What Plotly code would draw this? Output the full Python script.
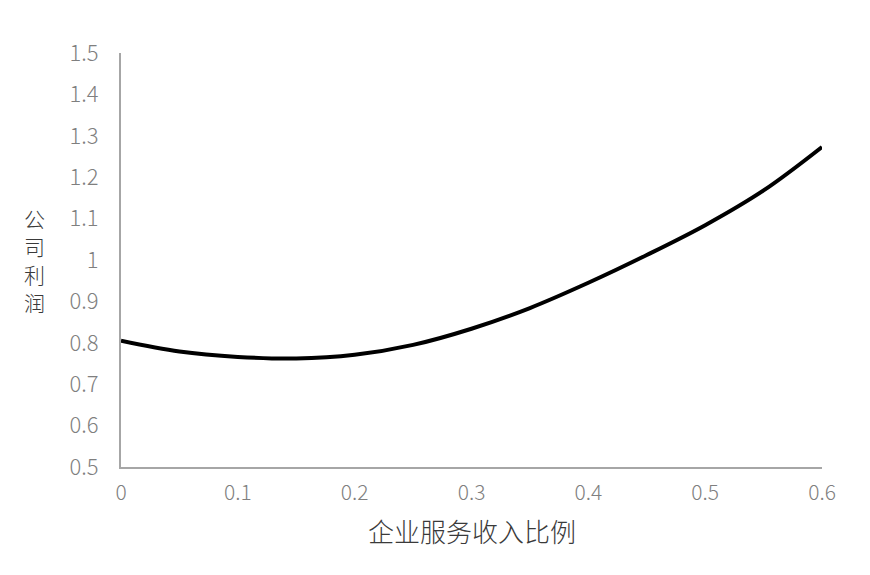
import plotly.graph_objects as go

# data
x_vals = [0.0, 0.05, 0.1, 0.15, 0.2, 0.25, 0.3, 0.35, 0.4, 0.45, 0.5, 0.55, 0.6]
profit = [0.805, 0.779, 0.766, 0.762, 0.771, 0.795, 0.834, 0.884, 0.945, 1.012, 1.084, 1.168, 1.273]

x_ticks = [0, 0.1, 0.2, 0.3, 0.4, 0.5, 0.6]
x_tick_text = ["0", "0.1", "0.2", "0.3", "0.4", "0.5", "0.6"]
y_ticks = [0.5, 0.6, 0.7, 0.8, 0.9, 1.0, 1.1, 1.2, 1.3, 1.4, 1.5]
y_tick_text = ["0.5", "0.6", "0.7", "0.8", "0.9", "1", "1.1", "1.2", "1.3", "1.4", "1.5"]

x_title = "企业服务收入比例"
y_title = "公司利润"

FONT = "Noto Sans CJK SC, Noto Sans, sans-serif"

fig = go.Figure()
fig.add_trace(go.Scatter(
    x=x_vals, y=profit, mode="lines",
    line=dict(color="#000000", width=4, shape="spline", smoothing=1.0),
    showlegend=False, hoverinfo="skip",
))

# vertical y-axis title, one character per line
ann = [
    dict(text=x_title, xref="paper", yref="paper", x=0.5, y=-0.153,
         xanchor="center", yanchor="middle", showarrow=False,
         font=dict(family=FONT, size=26, color="#3a3a3a", weight=300)),
]
n = len(y_title)
pitch = 28
for i, ch in enumerate(y_title):
    ann.append(dict(text=ch, xref="paper", yref="paper",
                    x=-0.124, y=0.5, xanchor="center", yanchor="middle",
                    yshift=(n - 1) / 2 * pitch - i * pitch + 0,
                    showarrow=False,
                    font=dict(family=FONT, size=21, color="#3a3a3a", weight=300)))

fig.update_layout(
    width=870, height=575,
    margin=dict(l=113, r=56, t=45, b=116),
    paper_bgcolor="white", plot_bgcolor="white",
    font=dict(family=FONT, color="#7f7f7f", size=22),
    xaxis=dict(
        range=[0, 0.6], tickvals=x_ticks, ticktext=x_tick_text,
        showgrid=False, zeroline=False, showline=True,
        linecolor="#a6a6a6", linewidth=2, ticks="",
        ticklabelstandoff=6,
        tickfont=dict(family=FONT, size=21, color="#7f7f7f", weight=300),
    ),
    yaxis=dict(
        range=[0.5, 1.5], tickvals=y_ticks, ticktext=y_tick_text,
        showgrid=False, zeroline=False, showline=True,
        linecolor="#a6a6a6", linewidth=2, ticks="",
        ticklabelstandoff=16,
        tickfont=dict(family=FONT, size=22, color="#7f7f7f", weight=300),
    ),
    annotations=ann,
)

fig.write_html("out.html")
